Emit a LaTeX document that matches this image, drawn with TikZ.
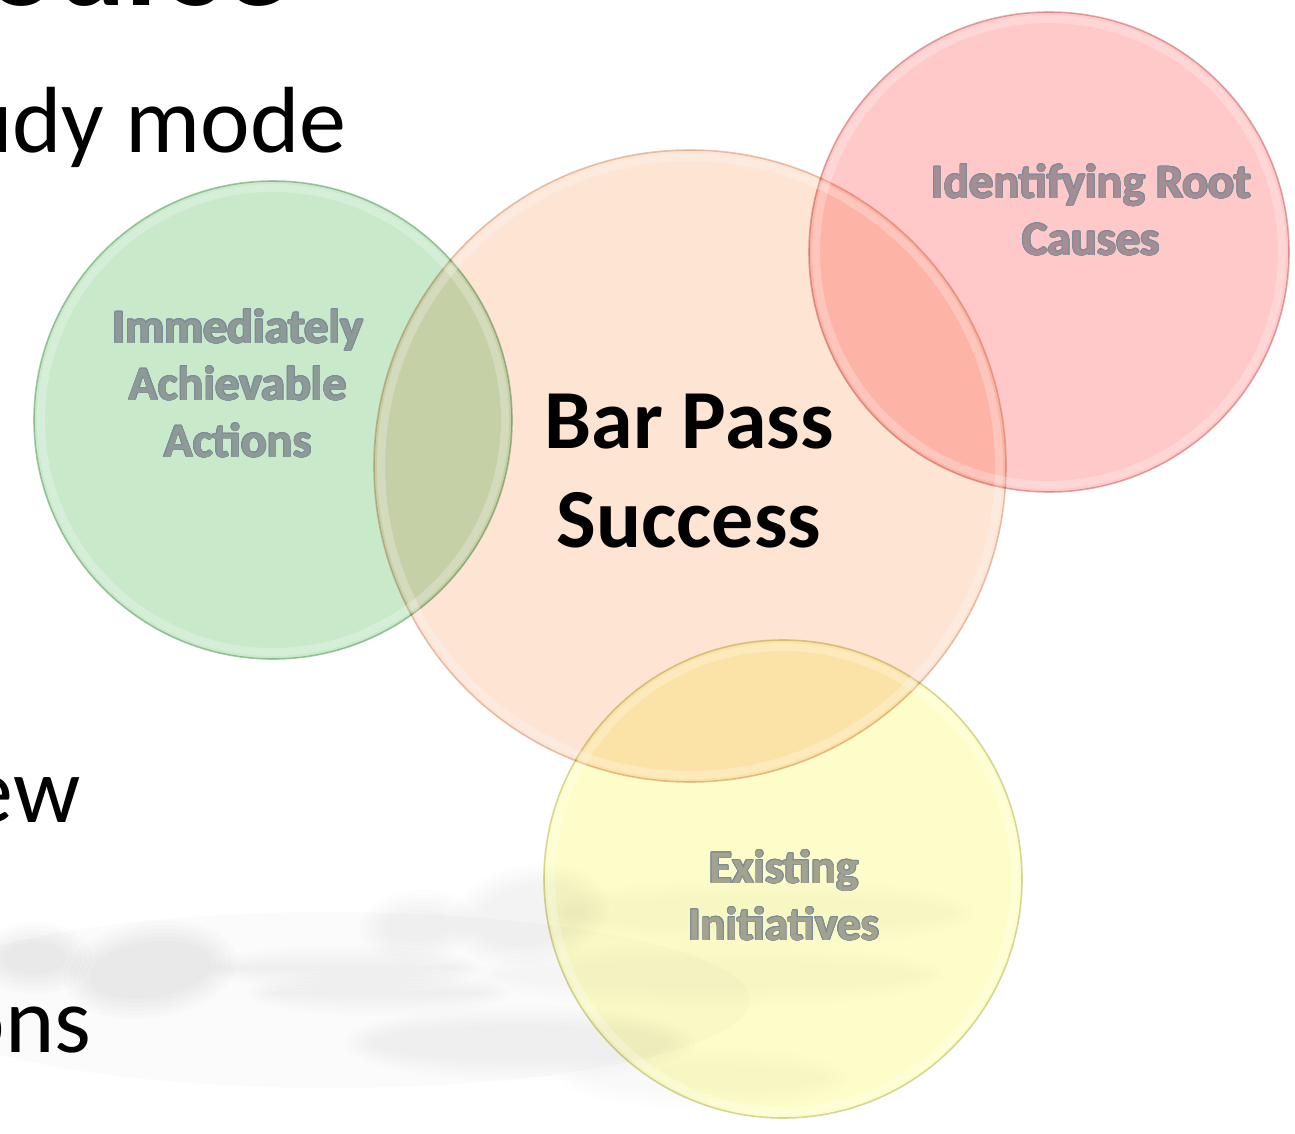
\documentclass[tikz,border=0pt]{standalone}
\usepackage{fontspec}
\setmainfont{Carlito}
\usepackage[copies]{contour}
\contourlength{0.8pt}
\contournumber{16}
\definecolor{gfill}{HTML}{C8E9CA}
\definecolor{pfill}{HTML}{FDE4D3}
\definecolor{rfill}{HTML}{FFC9C9}
\definecolor{yfill}{HTML}{FDFDC9}
\definecolor{gedge}{HTML}{ABCBAD}
\definecolor{pedge}{HTML}{E9C8B6}
\definecolor{redge}{HTML}{E0B0B2}
\definecolor{yedge}{HTML}{D8D8A6}
\definecolor{gtext}{HTML}{8E9A95}
\definecolor{rtext}{HTML}{A48E93}
\definecolor{ytext}{HTML}{A3A28E}
\definecolor{olc}{HTML}{7C8C9C}
\newcommand\olt[1]{\contour{olc}{#1}}
\newcommand\blob[6]{%
  \foreach \k in {0,...,5}{%
    \fill[black, opacity=#6, rotate around={#5:(#1,#2)}] (#1,#2) ellipse [x radius={#3+\k*5}, y radius={#4+\k*4}];}}
\begin{document}
\begin{tikzpicture}[x=1pt,y=-1pt,
  bubble/.style={circle, inner sep=0pt, line width=1.6pt, blend mode=multiply},
  glow/.style={white, opacity=0.25, line width=8pt},
  lblg/.style={anchor=base, text=gtext, font=\bfseries\fontsize{48}{57}\selectfont},
  lblr/.style={anchor=base, text=rtext, font=\bfseries\fontsize{48}{57}\selectfont},
  lbly/.style={anchor=base, text=ytext, font=\bfseries\fontsize{47}{57}\selectfont},
  mainlbl/.style={anchor=base, text=black, font=\bfseries\fontsize{84}{99}\selectfont},
  slide/.style={anchor=base east, text=black, font=\fontsize{94}{113}\selectfont},
  title/.style={anchor=base east, text=black, font=\bfseries\fontsize{130}{150}\selectfont}]
\useasboundingbox (0,0) rectangle (1295,1133);
\clip (0,0) rectangle (1295,1133);
\fill[white] (0,0) rectangle (1295,1133);

% faint reflections
\fill[black, opacity=0.014] (330,1000) ellipse [x radius=420, y radius=88];
\blob{150}{970}{62}{28}{8}{0.010}
\blob{35}{958}{32}{16}{0}{0.010}
\blob{418}{926}{34}{16}{5}{0.008}
\blob{345}{968}{112}{3}{0}{0.008}
\blob{378}{993}{106}{3}{0}{0.008}
\blob{520}{1043}{150}{18}{0}{0.006}
\blob{530}{915}{55}{30}{10}{0.007}
\blob{760}{913}{190}{16}{0}{0.004}
\blob{710}{975}{210}{14}{0}{0.004}
\blob{705}{1078}{120}{12}{0}{0.004}

% slide text
\node[title] (ttl) at (292,5) {Course};
\node[slide] (s1) at (350,152) {udy mode};
\node[slide] (s2) at (84,822) {ew};
\node[slide] (s3) at (95,1052) {ons};

% circles
\node[bubble, fill=pfill, draw=pedge, minimum size=632pt] (peach) at (690,466) {};
\node[bubble, fill=gfill, draw=gedge, minimum size=478pt] (green) at (273,420) {};
\node[bubble, fill=rfill, draw=redge, minimum size=480pt] (pink) at (1049,252) {};
\node[bubble, fill=yfill, draw=yedge, minimum size=478pt] (yellow) at (783,879) {};
\draw[glow] (peach.center) circle (309);
\draw[glow] (green.center) circle (232);
\draw[glow] (pink.center) circle (233);
\draw[glow] (yellow.center) circle (232);

% labels
\node[lblg] (g1) at (238,343) {\olt{Immediately}};
\node[lblg] (g2) at (238,400) {\olt{Achievable}};
\node[lblg] (g3) at (238,457) {\olt{Actions}};
\node[lblr] (r1) at (1091,198) {\olt{Identifying Root}};
\node[lblr] (r2) at (1091,255) {\olt{Causes}};
\node[lbly] (y1) at (784,883) {\olt{Existing}};
\node[lbly] (y2) at (784,940) {\olt{Initiatives}};
\node[mainlbl] (b1) at (689,448) {Bar Pass};
\node[mainlbl] (b2) at (689,547) {Success};
\end{tikzpicture}
\end{document}
